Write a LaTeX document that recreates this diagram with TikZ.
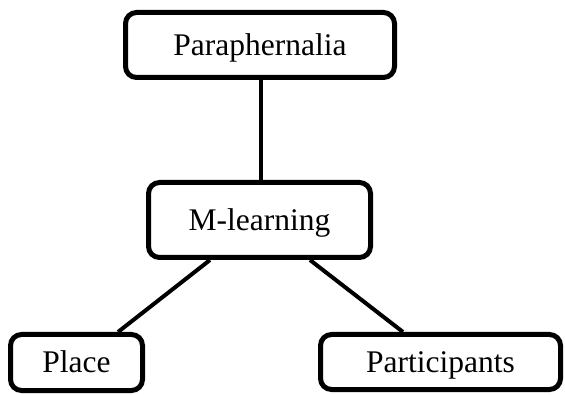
\documentclass[tikz,border=0pt]{standalone}
\usepackage{fontspec}
\setmainfont{Liberation Serif}
\usetikzlibrary{shadows}
\begin{document}
\begin{tikzpicture}[x=1pt,y=-1pt,
  box/.style={draw=black, line width=5pt, rounded corners=11pt, fill=white,
    inner sep=0pt, font=\fontsize{31.5}{38}\selectfont, text height=21pt, text depth=0pt,
    drop shadow={opacity=0.18, shadow xshift=1.5pt, shadow yshift=-2pt}},
  link/.style={draw=black, line width=4pt}]
\useasboundingbox (0,0) rectangle (565,395);
\node[box, minimum width=269pt, minimum height=65pt] (par) at (260,45) {Paraphernalia};
\node[box, minimum width=222pt, minimum height=75pt] (ml) at (259.5,220) {M-learning};
\node[box, minimum width=132pt, minimum height=56pt] (pl) at (76.5,362.5) {Place};
\node[box, minimum width=240pt, minimum height=55pt] (pa) at (440.5,362) {Participants};
\draw[link] ([xshift=1pt]par.south) -- ([xshift=1.5pt]ml.north);
\draw[link] ([xshift=-49.5pt]ml.south) -- ([xshift=41.5pt]pl.north);
\draw[link] ([xshift=50.5pt]ml.south) -- ([xshift=-37.5pt]pa.north);
\end{tikzpicture}
\end{document}
